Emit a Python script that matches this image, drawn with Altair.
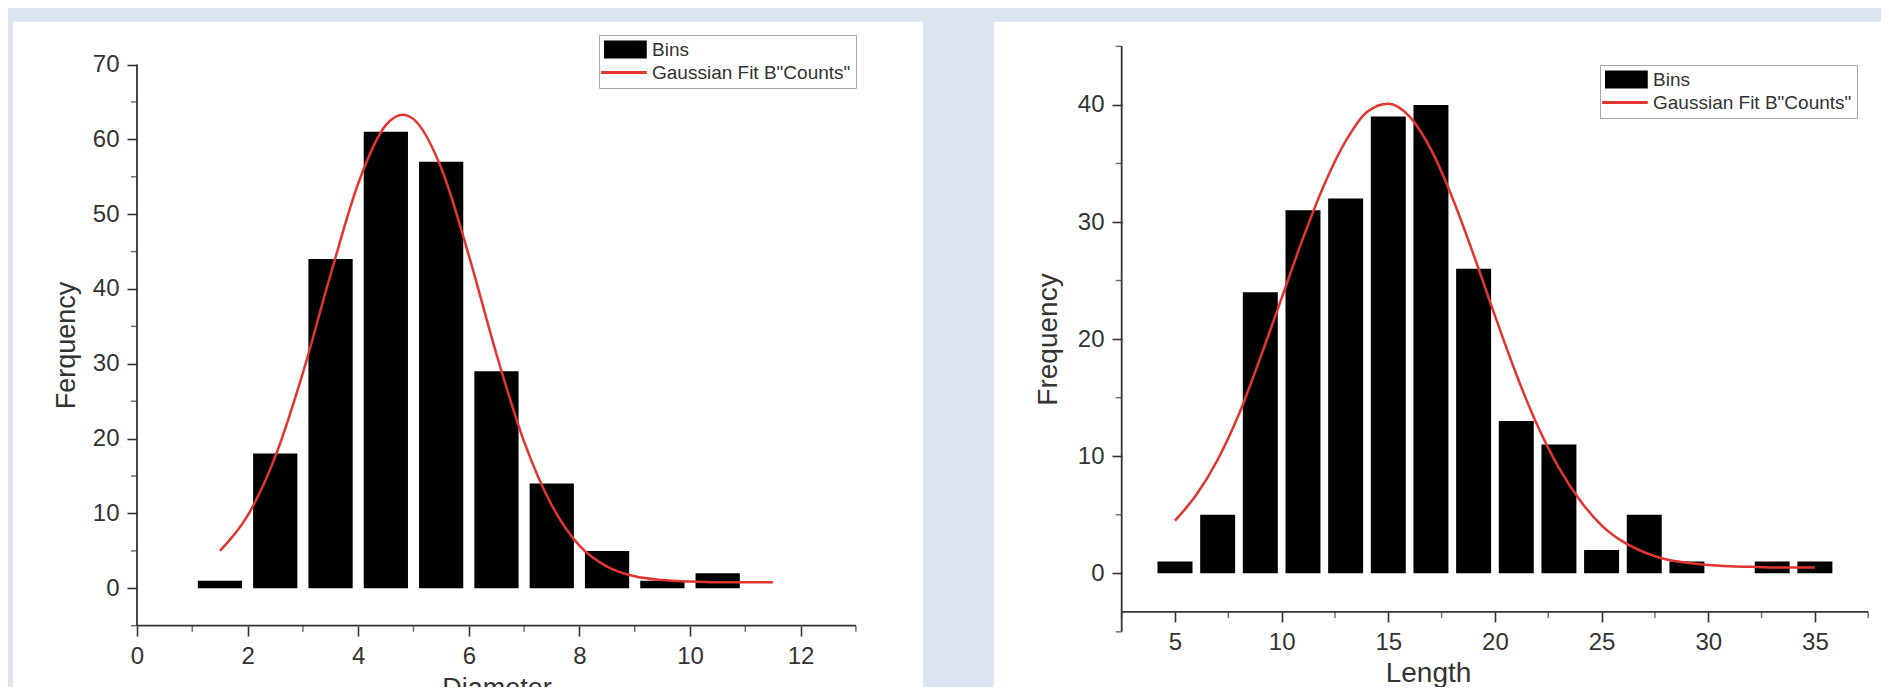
import altair as alt
import pandas as pd

# ---------------- data ----------------
# left panel (Diameter)
diam_centers = [1.5, 2.5, 3.5, 4.5, 5.5, 6.5, 7.5, 8.5, 9.5, 10.5]
diam_counts = [1, 18, 44, 61, 57, 29, 14, 5, 1, 2]
diam_fit_x = [1.5, 2.0, 2.5, 3.0, 3.5, 4.0, 4.5, 4.8, 5.0, 5.5, 6.0, 6.5,
              7.0, 7.5, 8.0, 8.5, 9.0, 9.5, 10.0, 10.5, 11.0, 11.5]
diam_fit_y = [5.0, 9.7, 17.6, 28.8, 41.9, 54.1, 61.9, 63.3, 62.7, 56.2, 44.5, 31.3,
              19.6, 11.1, 5.7, 2.9, 1.6, 1.1, 0.9, 0.8, 0.8, 0.8]
diam_major_x = [0, 2, 4, 6, 8, 10, 12]
diam_minor_x = [1, 3, 5, 7, 9, 11, 13]
diam_major_y = [0, 10, 20, 30, 40, 50, 60, 70]
diam_minor_y = [-5, 5, 15, 25, 35, 45, 55, 65]

# right panel (Length)
len_centers = [5, 7, 9, 11, 13, 15, 17, 19, 21, 23, 25, 27, 29, 31, 33, 35]
len_counts = [1, 5, 24, 31, 32, 39, 40, 26, 13, 11, 2, 5, 1, 0, 1, 1]
len_fit_x = [5, 6, 7, 8, 9, 10, 11, 12, 13, 14, 15, 16, 17, 18, 19, 20,
             21, 22, 23, 24, 25, 26, 27, 28, 29, 30, 31, 32, 33, 34, 35]
len_fit_y = [4.5, 6.7, 9.7, 13.6, 18.4, 23.5, 28.6, 33.2, 36.9, 39.4, 40.1, 39.0,
             36.2, 32.1, 27.2, 22.0, 17.0, 12.6, 9.0, 6.2, 4.1, 2.7, 1.8, 1.2,
             0.9, 0.7, 0.6, 0.55, 0.5, 0.5, 0.5]
len_major_x = [5, 10, 15, 20, 25, 30, 35]
len_minor_x = [2.5, 7.5, 12.5, 17.5, 22.5, 27.5, 32.5, 37.5]
len_major_y = [0, 10, 20, 30, 40]
len_minor_y = [-5, 5, 15, 25, 35, 45]

series_names = ["Bins", 'Gaussian Fit B"Counts"']

# ---------------- styles ----------------
RED = "#e3342f"
AX = "#333333"
LAB = "#333333"
FONT = "Liberation Sans"
BG = "#dce6f2"
RECT_PATH = "M-1,-0.96H3.5V0.96H-1Z"
LINE_PATH = "M-1.3,-0.16H3.5V0.16H-1.3Z"


def panel(centers, counts, bar_half, fit_x, fit_y, xdom, ydom,
          ax_line_y, ax_x0, ax_x1, ay_line_x, ay_y0, ay_y1,
          xmaj, xmin, ymaj, ymin, xoff, yoff,
          ytitle, ytx, yty, xtitle, xtx, xty,
          lx, ly, lab_fs, ytitle_fs, xtitle_fs):
    xs = alt.Scale(domain=xdom, nice=False, zero=False)
    ys = alt.Scale(domain=ydom, nice=False, zero=False)

    xaxis = alt.Axis(values=xmaj, domain=False, grid=False, tickSize=10,
                     tickWidth=1.6, tickColor=AX, labelFont=FONT,
                     labelFontSize=lab_fs, labelColor=LAB, labelPadding=8,
                     labelFlush=False, labelOverlap=False, offset=xoff,
                     title=xtitle if xtitle else None,
                     titleFont=FONT, titleFontSize=xtitle_fs,
                     titleFontWeight="normal", titleColor=AX,
                     titleX=xtx, titleY=xty, titleAlign="center",
                     titleBaseline="alphabetic", zindex=1)
    yaxis = alt.Axis(values=ymaj, domain=False, grid=False, tickSize=10,
                     tickWidth=1.6, tickColor=AX, labelFont=FONT,
                     labelFontSize=lab_fs, labelColor=LAB, labelPadding=8,
                     labelFlush=False, labelOverlap=False, offset=yoff,
                     title=ytitle, titleFont=FONT, titleFontSize=ytitle_fs,
                     titleFontWeight="normal", titleColor=AX, titleAngle=-90,
                     titleX=ytx, titleY=yty, titleAlign="center",
                     titleBaseline="middle", zindex=1)

    def X(field):
        return alt.X(field, scale=xs, axis=xaxis)

    def Y(field):
        return alt.Y(field, scale=ys, axis=yaxis)

    bars_df = pd.DataFrame({"center": centers, "count": counts})
    bars_df["x0"] = bars_df["center"] - bar_half
    bars_df["x1"] = bars_df["center"] + bar_half
    bars_df["base"] = 0
    bars = alt.Chart(bars_df).mark_bar(color="#000000").encode(
        x=X("x0:Q"), x2="x1:Q", y=Y("count:Q"), y2="base:Q",
    )

    fit_df = pd.DataFrame({"fx": fit_x, "fy": fit_y})
    fit = alt.Chart(fit_df).mark_line(color=RED, strokeWidth=2.5,
                                      interpolate="monotone").encode(
        x=X("fx:Q"), y=Y("fy:Q"),
    )

    vline = alt.Chart(pd.DataFrame({"x": [ay_line_x], "y0": [ay_y0], "y1": [ay_y1]})
                      ).mark_rule(color=AX, strokeWidth=1.8).encode(
        x=X("x:Q"), y=Y("y0:Q"), y2="y1:Q",
    )
    hline = alt.Chart(pd.DataFrame({"y": [ax_line_y], "x0": [ax_x0], "x1": [ax_x1]})
                      ).mark_rule(color=AX, strokeWidth=1.8).encode(
        y=Y("y:Q"), x=X("x0:Q"), x2="x1:Q",
    )

    ymin_df = pd.DataFrame({"v": ymin, "ax": [ay_line_x] * len(ymin)})
    ymin_ticks = alt.Chart(ymin_df).mark_tick(
        orient="horizontal", size=6, thickness=1.5, color=AX, xOffset=-3
    ).encode(x=X("ax:Q"), y=Y("v:Q"))
    xmin_df = pd.DataFrame({"v": xmin, "ay": [ax_line_y] * len(xmin)})
    xmin_ticks = alt.Chart(xmin_df).mark_tick(
        orient="vertical", size=6, thickness=1.5, color=AX, yOffset=3
    ).encode(x=X("v:Q"), y=Y("ay:Q"))

    leg = alt.Legend(
        title=None, orient="none", legendX=lx, legendY=ly, padding=5,
        strokeColor="#a8a8a8", fillColor="#ffffff", cornerRadius=0,
        labelFont=FONT, labelFontSize=19, labelColor=LAB, labelLimit=400,
        labelOffset=29, rowPadding=3, symbolSize=361, symbolStrokeWidth=0,
        symbolOpacity=1,
    )
    leg_df = pd.DataFrame({"series": series_names,
                           "lx": [xdom[0] - 100] * 2, "ly": [ydom[0] - 100] * 2})
    legend_pts = alt.Chart(leg_df).mark_point(
        filled=True, opacity=1, size=361, clip=True
    ).encode(
        x=X("lx:Q"), y=Y("ly:Q"),
        color=alt.Color("series:N", legend=leg,
                        scale=alt.Scale(domain=series_names, range=["#000000", RED])),
        shape=alt.Shape("series:N", legend=leg,
                        scale=alt.Scale(domain=series_names, range=[RECT_PATH, LINE_PATH])),
    )

    return [bars, fit, vline, hline, ymin_ticks, xmin_ticks, legend_pts]


# ---------------- left panel ----------------
left_layers = panel(
    diam_centers, diam_counts, 0.4, diam_fit_x, diam_fit_y,
    xdom=[-2.242, 14.213], ydom=[-13.19, 75.68],
    ax_line_y=-5, ax_x0=0, ax_x1=13, ay_line_x=0, ay_y0=-5, ay_y1=70,
    xmaj=diam_major_x, xmin=diam_minor_x, ymaj=diam_major_y, ymin=diam_minor_y,
    xoff=-61, yoff=-124,
    ytitle="Ferquency", ytx=-71, yty=323,
    xtitle=None, xtx=0, xty=0,
    lx=586, ly=13, lab_fs=24, ytitle_fs=27, xtitle_fs=27,
)
diam_title = alt.Chart(pd.DataFrame({"t": ["Diameter"]})).mark_text(
    clip=True, font=FONT, fontSize=27, color=AX, align="center", baseline="top"
).encode(text="t:N", x=alt.value(484), y=alt.value(654))
left = alt.layer(*left_layers, diam_title).properties(width=910, height=665)

# ---------------- right panel ----------------
right_layers = panel(
    len_centers, len_counts, 0.82, len_fit_x, len_fit_y,
    xdom=[-3.486, 38.10], ydom=[-9.71, 47.08],
    ax_line_y=-3.3, ax_x0=2.5, ax_x1=37.5, ay_line_x=2.5, ay_y0=-5, ay_y1=45,
    xmaj=len_major_x, xmin=len_minor_x, ymaj=len_major_y, ymin=len_minor_y,
    xoff=-75, yoff=-128,
    ytitle="Frequency", ytx=-74, yty=317,
    xtitle="Length", xtx=434, xty=69,
    lx=606, ly=43, lab_fs=24, ytitle_fs=28, xtitle_fs=28,
)
right = alt.layer(*right_layers).properties(width=887, height=665)

chart = alt.hconcat(left, right, spacing=71).resolve_scale(
    x="independent", y="independent", color="independent", shape="independent"
).resolve_legend(
    color="independent", shape="independent"
).properties(
    padding={"left": 5, "top": 14, "right": 0, "bottom": 0},
    background=BG,
).configure_view(
    fill="white", stroke=None
)

chart.save("out.html", embed_options={"renderer": "svg", "actions": False})
